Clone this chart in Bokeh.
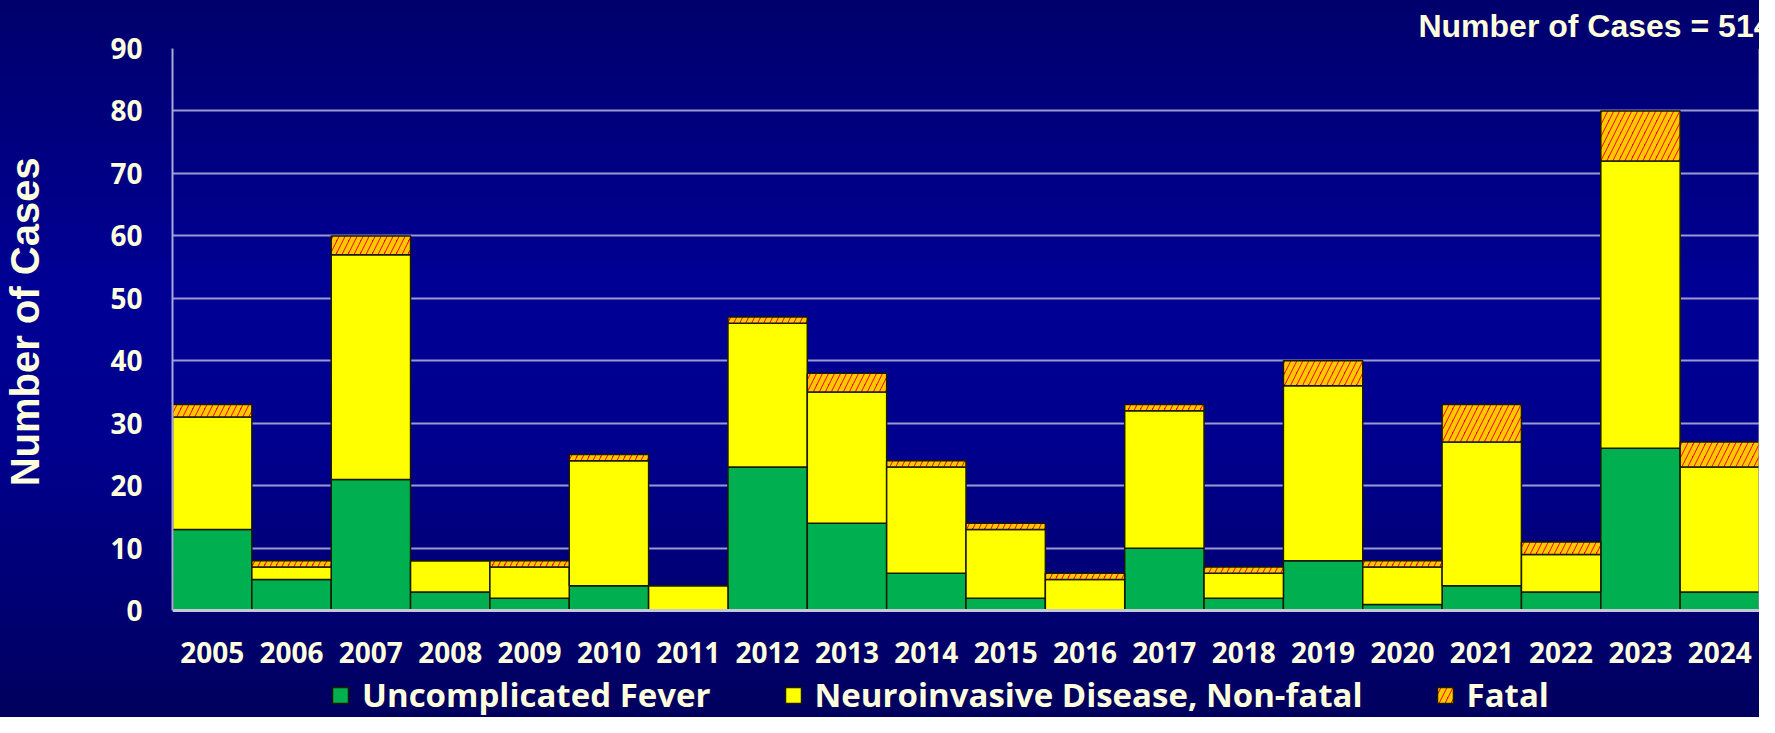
from bokeh.plotting import figure
from bokeh.models import FactorRange, Legend, LegendItem, ColumnDataSource, LinearAxis, FixedTicker
from bokeh.embed import file_html
from bokeh.resources import INLINE

years = ["2005", "2006", "2007", "2008", "2009", "2010", "2011", "2012", "2013", "2014",
         "2015", "2016", "2017", "2018", "2019", "2020", "2021", "2022", "2023", "2024"]
fever = [13, 5, 21, 3, 2, 4, 0, 23, 14, 6, 2, 0, 10, 2, 8, 1, 4, 3, 26, 3]
neuro = [18, 2, 36, 5, 5, 20, 4, 23, 21, 17, 11, 5, 22, 4, 28, 6, 23, 6, 46, 20]
fatal = [2, 1, 3, 0, 1, 1, 0, 1, 3, 1, 1, 1, 1, 1, 4, 1, 6, 2, 8, 4]
series_names = ["Uncomplicated Fever", "Neuroinvasive Disease, Non-fatal", "Fatal"]
y_ticks = [0, 10, 20, 30, 40, 50, 60, 70, 80, 90]
y_max = 90
y_below = -17.1   # room under the zero line for the year labels and the legend
total = sum(fever) + sum(neuro) + sum(fatal)

CREAM = "#FFFFDD"
FRAME_LINE = "#A8A8D8"

source = ColumnDataSource(dict(year=years, fever=fever, neuro=neuro, fatal=fatal))

p = figure(width=1759, height=717,
           x_range=FactorRange(*years, range_padding=0),
           y_range=(y_below, y_max), output_backend="svg", toolbar_location=None,
           background_fill_color=None, border_fill_color=None,
           min_border_left=165, min_border_right=0, min_border_top=41, min_border_bottom=0,
           styles={"background": "linear-gradient(180deg, #00006C 0%, #000094 40%, #00008E 62%, #00005E 100%)"})

p.title.text = f"Number of Cases = {total}"
p.title.align = "right"
p.title.text_font = "Liberation Sans"
p.title.text_font_style = "bold"
p.title.text_font_size = "32px"
p.title.text_color = CREAM
p.title.standoff = 10
p.title.offset = -12

renderers = p.vbar_stack(["fever", "neuro", "fatal"], x="year", width=1.0, source=source,
                         fill_color=["#00B050", "#FFFF00", "#FF0000"],
                         line_color="#1A1A00", line_width=1.5,
                         hatch_pattern=[" ", " ", "/"], hatch_color="#FFC800",
                         hatch_weight=4.5, hatch_scale=12)

legend = Legend(items=[LegendItem(label=n, renderers=[r]) for n, r in zip(series_names, renderers)],
                orientation="horizontal", location=(158, 0),
                background_fill_alpha=0, border_line_alpha=0,
                label_text_font="Open Sans", label_text_font_style="bold",
                label_text_font_size="33px", label_text_color=CREAM,
                label_height=34,
                glyph_width=20, glyph_height=20, spacing=72, label_standoff=12,
                padding=0, margin=0)
p.add_layout(legend)

# left axis: line only over the data range
pad = "\u00a0" * 11   # shifts the centred label up to the middle of the 0-90 span
p.yaxis.ticker = y_ticks
p.yaxis.bounds = (0, y_max)
p.yaxis.axis_label = pad + "Number of Cases"
p.yaxis.axis_label_text_font = "Liberation Sans"
p.yaxis.axis_label_text_font_style = "bold"
p.yaxis.axis_label_text_font_size = "40px"
p.yaxis.axis_label_text_color = CREAM
p.yaxis.axis_label_standoff = 60
p.yaxis.axis_line_color = FRAME_LINE
p.yaxis.axis_line_width = 2

# right frame edge as an axis fixed at the end of the last category
right_axis = LinearAxis(ticker=FixedTicker(ticks=[]), bounds=(0, y_max), fixed_location=len(years),
                        major_tick_line_color=None, minor_tick_line_color=None,
                        axis_line_color=FRAME_LINE, axis_line_width=2)
p.add_layout(right_axis, "right")

for ax in (p.xaxis, p.yaxis):
    ax.major_label_text_font = "Open Sans"
    ax.major_label_text_font_style = "bold"
    ax.major_label_text_font_size = "28px"
    ax.major_label_text_color = CREAM
    ax.major_tick_line_color = None
    ax.minor_tick_line_color = None

p.yaxis.major_label_standoff = 24
p.xaxis.fixed_location = 0
p.xaxis.major_label_standoff = 25
p.xaxis.axis_line_color = "#C8C8DC"
p.xaxis.axis_line_width = 3

p.xgrid.grid_line_color = None
p.ygrid.ticker = y_ticks
p.ygrid.grid_line_color = "#9A9AD0"
p.ygrid.grid_line_width = 2
p.outline_line_color = None

open("out.html", "w").write(file_html(p, INLINE))
